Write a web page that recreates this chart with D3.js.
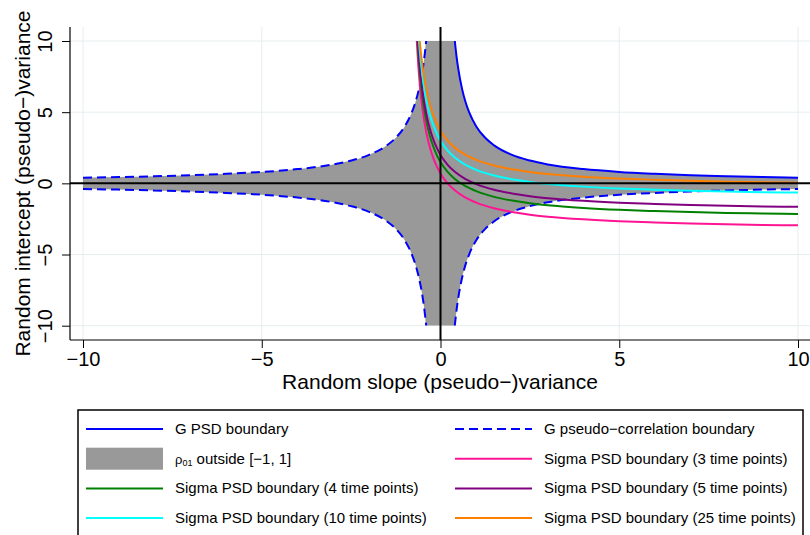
<!DOCTYPE html>
<html>
<head>
<meta charset="utf-8">
<script src="https://cdn.jsdelivr.net/npm/d3@7"></script>
<style>
  body { margin: 0; background: #fff; }
  svg { display: block; font-family: "Liberation Sans", Arial, sans-serif; }
</style>
</head>
<body>
<script>
// tick values on both axes
var xTicks = [-10, -5, 0, 5, 10];
var yTicks = [-10, -5, 0, 5, 10];

// G boundary (first quadrant, other quadrants are mirrored)
var gX = [0.4, 0.45, 0.5, 0.6, 0.7, 0.8, 1, 1.25, 1.5, 2, 2.5, 3, 4, 5, 6, 7, 8, 9, 10];
var gY = [10, 8.89, 8, 6.67, 5.71, 5, 4, 3.2, 2.67, 2, 1.6, 1.33, 1, 0.8, 0.67, 0.57, 0.5, 0.44, 0.4];

// Sigma PSD boundaries
var sigmaX  = [-0.67, -0.6, -0.5, -0.4, -0.3, -0.2, -0.1, 0, 0.2, 0.4, 0.7, 1, 1.5, 2, 2.5, 3, 4, 5, 6, 7, 8, 9, 10];
var sigma3  = [10.27, 7.56, 5.14, 3.61, 2.55, 1.77, 1.17, 0.70, 0.00, -0.49, -1.00, -1.35, -1.75, -2.01, -2.20, -2.34, -2.53, -2.66, -2.75, -2.82, -2.88, -2.92, -2.95];
var sigma4  = [11.07, 8.36, 5.94, 4.41, 3.35, 2.57, 1.97, 1.50, 0.80, 0.31, -0.20, -0.55, -0.95, -1.21, -1.40, -1.54, -1.73, -1.86, -1.95, -2.02, -2.08, -2.12, -2.15];
var sigma5  = [11.57, 8.86, 6.44, 4.91, 3.85, 3.07, 2.47, 2.00, 1.30, 0.81, 0.30, -0.05, -0.45, -0.71, -0.90, -1.04, -1.23, -1.36, -1.45, -1.52, -1.58, -1.62, -1.65];
var sigma10 = [12.57, 9.86, 7.44, 5.91, 4.85, 4.07, 3.47, 3.00, 2.30, 1.81, 1.30, 0.95, 0.55, 0.29, 0.10, -0.04, -0.23, -0.36, -0.45, -0.52, -0.58, -0.62, -0.65];
var sigma25 = [13.27, 10.56, 8.14, 6.61, 5.55, 4.77, 4.17, 3.70, 3.00, 2.51, 2.00, 1.65, 1.25, 0.99, 0.80, 0.66, 0.47, 0.34, 0.25, 0.18, 0.12, 0.08, 0.05];

var sigmaSeries = [
  { values: sigma3,  color: "#ff1493" },
  { values: sigma4,  color: "#008000" },
  { values: sigma5,  color: "#800080" },
  { values: sigma10, color: "#00ffff" },
  { values: sigma25, color: "#ff8000" }
];

var legendItems = [
  { label: "G PSD boundary", type: "line", color: "#0000ff" },
  { label: "G pseudo\u2212correlation boundary", type: "dash", color: "#0000ff" },
  { label: "outside [\u22121, 1]", type: "fill", color: "#999999" },
  { label: "Sigma PSD boundary (3 time points)", type: "line", color: "#ff1493" },
  { label: "Sigma PSD boundary (4 time points)", type: "line", color: "#008000" },
  { label: "Sigma PSD boundary (5 time points)", type: "line", color: "#800080" },
  { label: "Sigma PSD boundary (10 time points)", type: "line", color: "#00ffff" },
  { label: "Sigma PSD boundary (25 time points)", type: "line", color: "#ff8000" }
];

var width = 810, height = 535;
var plot = { left: 70, right: 810, top: 27, bottom: 340 };

var svg = d3.select("body").append("svg")
  .attr("width", width)
  .attr("height", height);

svg.append("rect").attr("width", width).attr("height", height).attr("fill", "#fff");

var x = d3.scaleLinear().domain([-10, 10]).range([83, 798]);
var y = d3.scaleLinear().domain([-10, 10]).range([325.7, 41]);

// grid lines
var grid = svg.append("g").attr("stroke", "#e6eef0").attr("stroke-width", 1);
grid.selectAll(".gx").data(xTicks).enter().append("line")
  .attr("x1", function (d) { return x(d); }).attr("x2", function (d) { return x(d); })
  .attr("y1", plot.top).attr("y2", plot.bottom);
grid.selectAll(".gy").data(yTicks).enter().append("line")
  .attr("x1", plot.left).attr("x2", plot.right)
  .attr("y1", function (d) { return y(d); }).attr("y2", function (d) { return y(d); });

// clip to the data range
svg.append("clipPath").attr("id", "clip")
  .append("rect")
  .attr("x", x(-10)).attr("y", y(10))
  .attr("width", x(10) - x(-10)).attr("height", y(-10) - y(10));

var data = svg.append("g").attr("clip-path", "url(#clip)");

// points for the G boundary in each quadrant
var right = gX.map(function (d, i) { return { x: d, y: gY[i] }; });
var left = gX.map(function (d, i) { return { x: -d, y: gY[i] }; }).reverse();

var area = d3.area()
  .x(function (d) { return x(d.x); })
  .y0(function (d) { return y(-d.y); })
  .y1(function (d) { return y(d.y); })
  .curve(d3.curveMonotoneX);

// gray region where rho_01 is outside [-1, 1]
data.append("path").datum(left).attr("d", area).attr("fill", "#999999");
data.append("path").datum(right).attr("d", area).attr("fill", "#999999");
data.append("rect")
  .attr("x", x(-gX[0]) - 0.5).attr("width", x(gX[0]) - x(-gX[0]) + 1)
  .attr("y", y(10)).attr("height", y(-10) - y(10))
  .attr("fill", "#999999");

// black reference lines at zero
svg.append("line")
  .attr("x1", plot.left).attr("x2", plot.right)
  .attr("y1", y(0)).attr("y2", y(0))
  .attr("stroke", "#000").attr("stroke-width", 2);
svg.append("line")
  .attr("x1", x(0)).attr("x2", x(0))
  .attr("y1", plot.top).attr("y2", plot.bottom)
  .attr("stroke", "#000").attr("stroke-width", 2);

var line = d3.line()
  .x(function (d) { return x(d.x); })
  .y(function (d) { return y(d.y); })
  .curve(d3.curveMonotoneX);

// dashed pseudo-correlation boundary (upper left, lower left, lower right)
var dashParts = [
  left,
  left.map(function (d) { return { x: d.x, y: -d.y }; }),
  right.map(function (d) { return { x: d.x, y: -d.y }; })
];
dashParts.forEach(function (p) {
  data.append("path").datum(p).attr("d", line)
    .attr("fill", "none").attr("stroke", "#0000ff")
    .attr("stroke-width", 2).attr("stroke-dasharray", "9,5");
});

// sigma PSD boundaries
sigmaSeries.forEach(function (s) {
  var pts = sigmaX.map(function (d, i) { return { x: d, y: s.values[i] }; });
  data.append("path").datum(pts).attr("d", line)
    .attr("fill", "none").attr("stroke", s.color).attr("stroke-width", 2);
});

// solid G PSD boundary
data.append("path").datum(right).attr("d", line)
  .attr("fill", "none").attr("stroke", "#0000ff").attr("stroke-width", 2);

// axes
var xAxis = svg.append("g")
  .attr("transform", "translate(0," + plot.bottom + ")")
  .call(d3.axisBottom(x).tickValues(xTicks).tickSize(8).tickSizeOuter(0).tickPadding(4));
xAxis.select(".domain").remove();
xAxis.selectAll("text").style("font-size", "20px").attr("fill", "#000");

var yAxis = svg.append("g")
  .attr("transform", "translate(" + plot.left + ",0)")
  .call(d3.axisLeft(y).tickValues(yTicks).tickSize(8).tickSizeOuter(0));
yAxis.select(".domain").remove();
yAxis.selectAll("text")
  .attr("transform", "rotate(-90)")
  .attr("x", 0).attr("y", -18).attr("dy", 0)
  .style("text-anchor", "middle")
  .style("font-size", "20px").attr("fill", "#000");

svg.selectAll(".tick line").attr("stroke", "#000");

svg.append("line")
  .attr("x1", plot.left).attr("x2", plot.left)
  .attr("y1", plot.top).attr("y2", plot.bottom)
  .attr("stroke", "#000").attr("stroke-width", 1.2);
svg.append("line")
  .attr("x1", plot.left).attr("x2", plot.right)
  .attr("y1", plot.bottom).attr("y2", plot.bottom)
  .attr("stroke", "#000").attr("stroke-width", 1.2);

// axis titles
svg.append("text")
  .attr("x", (plot.left + plot.right) / 2).attr("y", 389)
  .attr("text-anchor", "middle").style("font-size", "21px")
  .text("Random slope (pseudo\u2212)variance");

svg.append("text")
  .attr("transform", "translate(30," + (plot.top + plot.bottom) / 2 + ") rotate(-90)")
  .attr("text-anchor", "middle").style("font-size", "21px")
  .text("Random intercept (pseudo\u2212)variance");

// legend
var legend = svg.append("g");
legend.append("rect")
  .attr("x", 78).attr("y", 410).attr("width", 725).attr("height", 140)
  .attr("fill", "#fff").attr("stroke", "#000").attr("stroke-width", 1.5);

var cols = [86, 455];
var rowY = function (i) { return 429 + i * 29.7; };

legendItems.forEach(function (d, i) {
  var cx = cols[i % 2], cy = rowY(Math.floor(i / 2));
  var g = legend.append("g");
  if (d.type === "fill") {
    g.append("rect").attr("x", cx).attr("y", cy - 11).attr("width", 77).attr("height", 22).attr("fill", d.color);
  } else {
    g.append("line")
      .attr("x1", cx).attr("x2", cx + 77).attr("y1", cy).attr("y2", cy)
      .attr("stroke", d.color).attr("stroke-width", 2)
      .attr("stroke-dasharray", d.type === "dash" ? "9,5" : null);
  }
  var t = g.append("text").attr("x", cx + 89).attr("y", cy + 5).style("font-size", "15px");
  if (d.type === "fill") {
    t.append("tspan").style("font-size", "13px").text("\u03c1");
    t.append("tspan").style("font-size", "9px").attr("dy", 2).text("01");
    t.append("tspan").attr("dy", -2).text(" " + d.label);
  } else {
    t.text(d.label);
  }
});
</script>
</body>
</html>
